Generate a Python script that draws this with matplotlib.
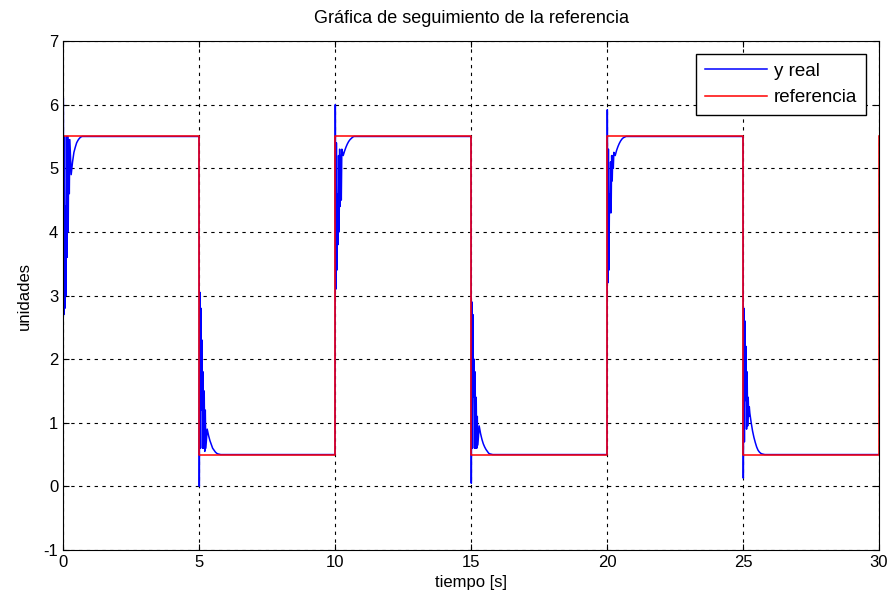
import numpy as np
import matplotlib
matplotlib.use("Agg")
from matplotlib import pyplot as plt

# reference steps (value holds from each time until the next)
ref_t = [0, 5, 10, 15, 20, 25, 30]
ref_y = [5.5, 0.5, 5.5, 0.5, 5.5, 0.5, 5.5]

# sample offsets (s) after each step, shared by all transients
offs = [0, 0.01, 0.03, 0.05, 0.07, 0.09, 0.11, 0.13, 0.15, 0.17, 0.19, 0.21,
        0.23, 0.25, 0.3, 0.35, 0.4, 0.45, 0.5, 0.55, 0.6, 0.65, 0.7, 0.8]

# measured output after each step
edges = [0, 5, 10, 15, 20, 25]
y_e0 = [0.0, 6.1, 2.7, 5.5, 2.8, 4.4, 3.0, 5.5, 3.6, 5.5, 4.0, 5.45,
        4.6, 5.45, 4.9, 5.1, 5.25, 5.33, 5.4, 5.44, 5.47, 5.49, 5.5, 5.5]
y_e5 = [5.5, 0.0, 3.05, 0.6, 2.8, 1.2, 2.3, 0.6, 1.8, 0.6, 1.5, 0.55,
        1.2, 0.6, 0.9, 0.8, 0.72, 0.66, 0.6, 0.57, 0.54, 0.52, 0.51, 0.5]
y_e10 = [0.5, 6.0, 3.1, 5.4, 3.4, 4.6, 3.8, 5.2, 4.0, 5.3, 4.4, 5.2,
         4.5, 5.3, 5.2, 5.27, 5.33, 5.38, 5.42, 5.45, 5.47, 5.49, 5.5, 5.5]
y_e15 = [5.5, 0.05, 2.9, 0.6, 2.7, 1.4, 2.0, 0.6, 1.8, 0.6, 1.4, 0.6,
         1.1, 0.65, 0.95, 0.83, 0.74, 0.67, 0.62, 0.58, 0.55, 0.52, 0.51, 0.5]
y_e20 = [0.5, 5.92, 3.2, 5.3, 3.4, 4.6, 4.3, 5.1, 4.3, 5.2, 4.8, 5.2,
         5.0, 5.25, 5.2, 5.28, 5.34, 5.39, 5.43, 5.46, 5.48, 5.49, 5.5, 5.5]
y_e25 = [5.5, 0.13, 2.8, 0.7, 2.6, 1.35, 2.2, 0.9, 1.8, 0.95, 1.4, 1.1,
         1.25, 1.15, 1.0, 0.87, 0.77, 0.69, 0.62, 0.57, 0.54, 0.52, 0.51, 0.5]
resp = [y_e0, y_e5, y_e10, y_e15, y_e20, y_e25]
t_end = 30
y_end = 0.5

t_real = []
y_real = []
for e, vals in zip(edges, resp):
    t_real += [e + o for o in offs]
    y_real += vals
t_real.append(t_end)
y_real.append(y_end)

plt.rcParams['font.family'] = ['Liberation Sans', 'DejaVu Sans']
plt.rcParams['axes.unicode_minus'] = False

fig = plt.figure(figsize=(8.89, 6.06), dpi=100)
ax = fig.add_axes([0.0709, 0.0924, 0.9179, 0.8399])

ax.plot(t_real, y_real, color=(0, 0, 1), linewidth=1.1, label='y real')
ax.step(ref_t, ref_y, where='post', color=(1, 0, 0), linewidth=1.1, label='referencia')

ax.set_xlim(0, 30)
ax.set_ylim(-1, 7)
ax.set_xticks(range(0, 31, 5))
ax.set_yticks(range(-1, 8))
ax.grid(True, color='black', linestyle=(0, (3, 4)), linewidth=0.8)
ax.tick_params(direction='in', top=True, right=True, labelsize=12, length=4)
for s in ax.spines.values():
    s.set_linewidth(0.8)

ax.set_title('Gráfica de seguimiento de la referencia', fontsize=13, pad=13)
ax.set_xlabel('tiempo [s]', fontsize=12, labelpad=4)
ax.set_ylabel('unidades', fontsize=12, labelpad=8)

leg = ax.legend(loc='upper right', fontsize=13.5, fancybox=False, framealpha=1,
                edgecolor='black', handlelength=3.3, handletextpad=0.4,
                borderaxespad=0.7, borderpad=0.45, labelspacing=0.5)
leg.get_frame().set_linewidth(1.0)

fig.savefig('out.png', dpi=100)
